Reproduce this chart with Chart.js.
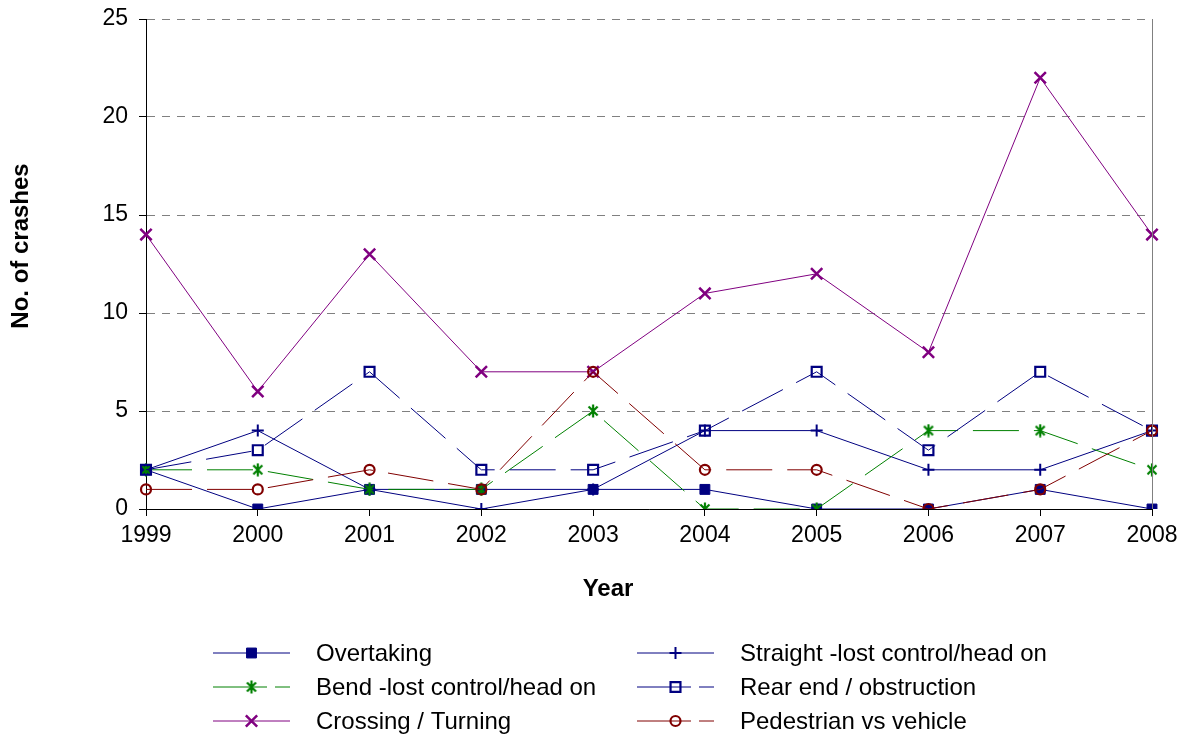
<!DOCTYPE html>
<html>
<head>
<meta charset="utf-8">
<script src="https://cdn.jsdelivr.net/npm/chart.js@4/dist/chart.umd.min.js"></script>
<style>
  html, body { margin: 0; padding: 0; background: #ffffff; }
  #wrap { width: 1186px; height: 738px; position: relative; }
</style>
</head>
<body>
<div id="wrap"><canvas id="c" width="1186" height="738"></canvas></div>
<script>
const years = ['1999','2000','2001','2002','2003','2004','2005','2006','2007','2008'];
const overtaking = [2,0,1,1,1,1,0,0,1,0];
const straight   = [2,4,1,0,1,4,4,2,2,4];
const bend       = [2,2,1,1,5,0,0,4,4,2];
const rearEnd    = [2,3,7,2,2,4,7,3,7,4];
const crossing   = [14,6,13,7,7,11,12,8,22,14];
const pedestrian = [1,1,2,1,7,2,2,0,1,4];
const seriesNames = ['Overtaking','Straight -lost control/head on','Bend -lost control/head on','Rear end / obstruction','Crossing / Turning','Pedestrian vs vehicle'];
const yTicks = [0,5,10,15,20,25];
const xTitle = 'Year';
const yTitle = 'No. of crashes';

const FONT = "'Liberation Sans', Arial, Helvetica, sans-serif";
const NAVY = '#000080', GREEN = '#008000', PURPLE = '#800080', DRED = '#800000';
const DASH = [46, 15];

// asterisk marker (X with vertical bar) as Excel draws it
function asteriskImage(color) {
  const c = document.createElement('canvas');
  c.width = 14; c.height = 14;
  const g = c.getContext('2d');
  g.strokeStyle = color; g.lineWidth = 2.2;
  g.beginPath();
  g.moveTo(2.5, 2.5); g.lineTo(11.5, 11.5);
  g.moveTo(11.5, 2.5); g.lineTo(2.5, 11.5);
  g.moveTo(7, 0.5); g.lineTo(7, 13.5);
  g.stroke();
  return c;
}
const asterisk = asteriskImage(GREEN);

const datasets = [
  { label: seriesNames[0], data: overtaking, borderColor: NAVY, borderWidth: 1, borderDash: [],
    pointStyle: 'rect', pointRadius: 7, pointBackgroundColor: NAVY, pointBorderColor: NAVY, pointBorderWidth: 1, order: 6 },
  { label: seriesNames[1], data: straight, borderColor: NAVY, borderWidth: 1, borderDash: [],
    pointStyle: 'cross', pointRadius: 6, pointBackgroundColor: NAVY, pointBorderColor: NAVY, pointBorderWidth: 2, order: 5 },
  { label: seriesNames[2], data: bend, borderColor: GREEN, borderWidth: 1, borderDash: DASH,
    pointStyle: asterisk, pointRadius: 7, pointBackgroundColor: GREEN, pointBorderColor: GREEN, pointBorderWidth: 2, order: 4 },
  { label: seriesNames[3], data: rearEnd, borderColor: NAVY, borderWidth: 1, borderDash: DASH,
    pointStyle: 'rect', pointRadius: 7, pointBackgroundColor: 'rgba(0,0,0,0)', pointBorderColor: NAVY, pointBorderWidth: 2.2, order: 3 },
  { label: seriesNames[4], data: crossing, borderColor: PURPLE, borderWidth: 1, borderDash: [],
    pointStyle: 'crossRot', pointRadius: 8, pointBackgroundColor: PURPLE, pointBorderColor: PURPLE, pointBorderWidth: 2.5, order: 2 },
  { label: seriesNames[5], data: pedestrian, borderColor: DRED, borderWidth: 1, borderDash: DASH,
    pointStyle: 'circle', pointRadius: 5, pointBackgroundColor: 'rgba(0,0,0,0)', pointBorderColor: DRED, pointBorderWidth: 2.2, order: 1 }
];
datasets.forEach(d => { d.fill = false; d.tension = 0; d.pointHoverRadius = d.pointRadius; });

// legend layout: [column x of line start, row y]
const legendItems = [
  { ds: 0, x: 213, y: 653 }, { ds: 1, x: 637, y: 653 },
  { ds: 2, x: 213, y: 687 }, { ds: 3, x: 637, y: 687 },
  { ds: 4, x: 213, y: 721 }, { ds: 5, x: 637, y: 721 }
];

function drawMarker(ctx, ds, x, y) {
  const st = ds.pointStyle, r = ds.pointRadius;
  ctx.save();
  ctx.lineWidth = ds.pointBorderWidth;
  ctx.strokeStyle = ds.pointBorderColor;
  ctx.fillStyle = ds.pointBackgroundColor;
  ctx.setLineDash([]);
  if (st instanceof HTMLCanvasElement) {
    ctx.drawImage(st, x - st.width / 2, y - st.height / 2);
  } else if (st === 'rect') {
    const s = Math.SQRT1_2 * r;
    ctx.beginPath(); ctx.rect(x - s, y - s, 2 * s, 2 * s); ctx.fill(); ctx.stroke();
  } else if (st === 'cross') {
    ctx.beginPath(); ctx.moveTo(x - r, y); ctx.lineTo(x + r, y); ctx.moveTo(x, y - r); ctx.lineTo(x, y + r); ctx.stroke();
  } else if (st === 'crossRot') {
    const s = r * Math.SQRT1_2;
    ctx.beginPath(); ctx.moveTo(x - s, y - s); ctx.lineTo(x + s, y + s); ctx.moveTo(x + s, y - s); ctx.lineTo(x - s, y + s); ctx.stroke();
  } else if (st === 'circle') {
    ctx.beginPath(); ctx.arc(x, y, r, 0, Math.PI * 2); ctx.fill(); ctx.stroke();
  }
  ctx.restore();
}

const customLegend = {
  id: 'customLegend',
  afterDraw(chart) {
    const ctx = chart.ctx;
    const a = chart.chartArea;
    // right border of plot area
    ctx.save();
    ctx.strokeStyle = '#808080'; ctx.lineWidth = 1;
    ctx.beginPath(); ctx.moveTo(Math.round(a.right) + 0.5, a.top); ctx.lineTo(Math.round(a.right) + 0.5, a.bottom); ctx.stroke();
    ctx.restore();

    // axis titles
    ctx.save();
    ctx.fillStyle = '#000'; ctx.font = 'bold 24px ' + FONT;
    ctx.textAlign = 'center'; ctx.textBaseline = 'middle';
    ctx.fillText(xTitle, 608, 589);
    ctx.translate(21, 246); ctx.rotate(-Math.PI / 2);
    ctx.fillText(yTitle, 0, 0);
    ctx.restore();

    legendItems.forEach(it => {
      const ds = chart.data.datasets[it.ds];
      ctx.save();
      ctx.strokeStyle = ds.borderColor; ctx.lineWidth = 1;
      ctx.setLineDash(ds.borderDash.length ? [54, 8] : []);
      ctx.beginPath(); ctx.moveTo(it.x, it.y); ctx.lineTo(it.x + 77, it.y); ctx.stroke();
      ctx.restore();
      drawMarker(ctx, ds, it.x + 38.5, it.y);
      ctx.save();
      ctx.fillStyle = '#000'; ctx.font = '24px ' + FONT;
      ctx.textBaseline = 'middle'; ctx.textAlign = 'left';
      ctx.fillText(ds.label, it.x + 103, it.y + 1);
      ctx.restore();
    });
  }
};

new Chart(document.getElementById('c'), {
  type: 'line',
  data: { labels: years, datasets: datasets },
  plugins: [customLegend],
  options: {
    responsive: false,
    animation: false,
    devicePixelRatio: 1,
    layout: { padding: { top: 19, right: 34, bottom: 128, left: 0 } },
    plugins: { legend: { display: false }, tooltip: { enabled: false }, title: { display: false } },
    scales: {
      x: {
        type: 'category',
        offset: false,
        afterFit: s => { s.height = 101; s.paddingLeft = 0; s.paddingRight = 0; },
        grid: { display: true, drawOnChartArea: false, drawTicks: true, tickLength: 7, tickColor: '#000', color: '#000' },
        border: { display: true, color: '#000', width: 1 },
        ticks: { color: '#000', font: { family: FONT, size: 23 }, padding: 6, maxRotation: 0, autoSkip: false },
        title: { display: false }
      },
      y: {
        min: 0, max: 25,
        afterFit: s => { s.width = 146; s.paddingTop = 0; s.paddingBottom = 0; },
        afterBuildTicks: s => { s.ticks = yTicks.map(v => ({ value: v })); },
        grid: { color: '#808080', lineWidth: 1, drawTicks: true, tickLength: 7, tickColor: '#000', tickBorderDash: [] },
        border: { display: true, color: '#000', width: 1, dash: [8, 7] },
        ticks: { color: '#000', font: { family: FONT, size: 23 }, padding: 11 },
        title: { display: false }
      }
    }
  }
});
</script>
</body>
</html>
